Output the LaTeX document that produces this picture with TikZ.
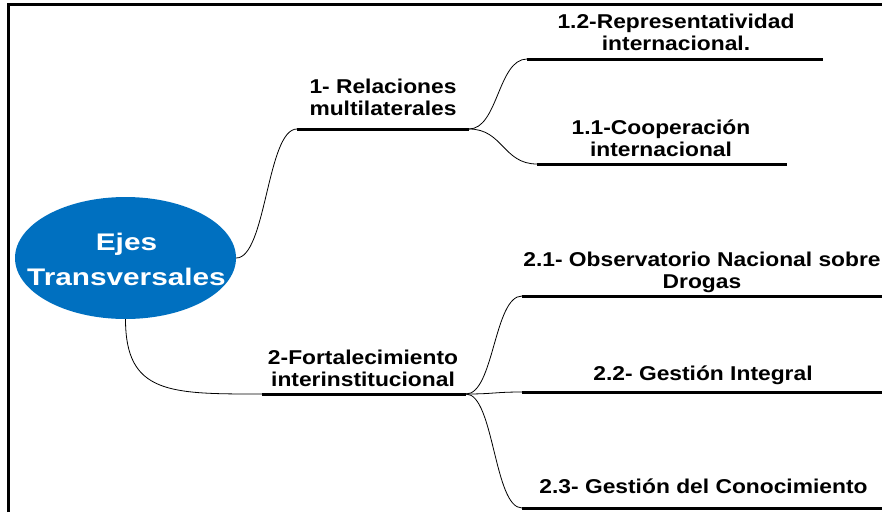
\documentclass[tikz,border=0pt]{standalone}
\usepackage{fontspec}
\usetikzlibrary{shapes.geometric}
\newfontfamily\lblfont{Liberation Sans}[FakeStretch=1.14]
\newfontfamily\rootfont{Liberation Sans}[FakeStretch=1.24]
\definecolor{rootblue}{RGB}{0,112,192}
\tikzset{
  lbl/.style={font=\lblfont\bfseries\fontsize{20}{22}\selectfont, align=center, inner sep=0pt, anchor=base, text=black},
  uline/.style={fill=black, draw=none, inner sep=0pt, outer sep=0pt, minimum height=3pt},
  link/.style={draw=black, line width=0.8pt},
  rootshape/.style={ellipse, fill=rootblue, draw=none, inner sep=0pt, minimum width=221pt, minimum height=122pt},
  roottext/.style={font=\rootfont\bfseries\fontsize{24}{35}\selectfont, align=center, text=white, inner sep=0pt},
  frame/.style={draw=black, line width=2.5pt}
}
\begin{document}
\begin{tikzpicture}[x=1pt,y=-1pt]
\useasboundingbox (0,0) rectangle (882,512);
\clip (0,0) rectangle (882,512);
% frame
\coordinate (fa) at (8.7,512);
\coordinate (fb) at (8.7,4.5);
\coordinate (fc) at (882,4.5);
\draw[frame] (fa) -- (fb) -- (fc);
% root
\node[rootshape] (root) at (125.5,258) {};
\node[roottext] (roottxt) at (126.5,259) {Ejes\\Transversales};
% underlines
\node[uline, minimum width=172pt] (b1) at (383,129) {};
\node[uline, minimum width=204pt] (b2) at (364,394) {};
\node[uline, minimum width=296pt] (s12) at (675,59) {};
\node[uline, minimum width=250pt] (s11) at (662,164) {};
\node[uline, minimum width=362pt] (s21) at (703,296) {};
\node[uline, minimum width=362pt] (s22) at (703,392) {};
\node[uline, minimum width=362pt] (s23) at (703,508) {};
% labels (anchored at the baseline of their last line)
\node[lbl] (t1) at (383,115) {1- Relaciones\\multilaterales};
\node[lbl] (t2) at (363,386) {2-Fortalecimiento\\interinstitucional};
\node[lbl] (t12) at (676,50) {1.2-Representatividad\\internacional.};
\node[lbl] (t11) at (661,156) {1.1-Cooperación\\internacional};
\node[lbl] (t21) at (702,288) {2.1- Observatorio Nacional sobre\\Drogas};
\node[lbl] (t22) at (703,380) {2.2- Gestión Integral};
\node[lbl] (t23) at (703.5,493) {2.3- Gestión del Conocimiento};
% connectors
\draw[link] (root.east) .. controls +(30,0) and +(-30,0) .. (b1.west);
\draw[link] (root.south) .. controls +(0,75) and +(-92,0) .. (b2.west);
\draw[link] (b1.east) .. controls +(29,0) and +(-29,0) .. (s12.west);
\draw[link] (b1.east) .. controls +(34,0) and +(-34,0) .. (s11.west);
\draw[link] (b2.east) .. controls +(28,0) and +(-28,0) .. (s21.west);
\draw[link] (b2.east) .. controls +(28,0) and +(-28,0) .. (s22.west);
\draw[link] (b2.east) .. controls +(28,0) and +(-28,0) .. (s23.west);
\end{tikzpicture}
\end{document}
